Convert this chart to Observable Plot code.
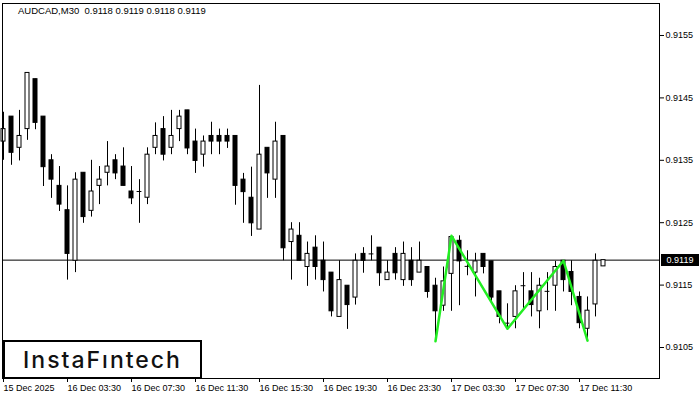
<!DOCTYPE html>
<html><head><meta charset="utf-8">
<script src="https://cdn.jsdelivr.net/npm/d3@7"></script>
<script src="https://cdn.jsdelivr.net/npm/@observablehq/plot@0.6"></script>
<style>
body{margin:0;background:#fff;}
#wrap{position:relative;width:700px;height:400px;font-family:"Liberation Sans",Arial,sans-serif;}
#hdr{position:absolute;left:18px;top:5px;font-size:9.5px;white-space:pre;color:#000;}
#logo{position:absolute;left:3px;top:340px;width:195px;height:35px;border:2px solid #000;background:#fff;font-family:Inter,sans-serif;font-size:23px;font-weight:500;letter-spacing:2px;display:flex;align-items:center;justify-content:center;color:#111;}
#price{position:absolute;left:661px;width:38px;height:12px;background:#000;color:#fff;font-size:9px;line-height:12px;text-align:center;}
</style></head>
<body>
<div id="wrap">
<div id="chart"></div>
<div id="hdr"></div>
<div id="logo">InstaFıntech</div>
<div id="price"></div>
</div>
<script>
const symbolTitle = "AUDCAD,M30  0.9118 0.9119 0.9118 0.9119";
const open = [0.91380,0.91420,0.91370,0.91400,0.91480,0.91420,0.91350,0.91309,0.91270,0.91189,
0.91330,0.91269,0.91309,0.91330,0.91350,0.91340,0.91300,0.91300,0.91290,0.91370,
0.91400,0.91370,0.91400,0.91430,0.91380,0.91359,0.91389,0.91389,0.91389,0.91389,
0.91319,0.91290,0.91239,0.91370,0.91319,0.91389,0.91219,0.91229,0.91179,0.91210,
0.91189,0.91170,0.91099,0.91149,0.91130,0.91200,0.91200,0.91210,0.91158,0.91200,
0.91158,0.91189,0.91170,0.91179,0.91149,0.91117,0.91168,0.91221,0.91180,0.91170,
0.91200,0.91188,0.91140,0.91089,0.91099,0.91149,0.91140,0.91108,0.91140,0.91149,
0.91189,0.91171,0.91131,0.91080,0.91119,0.91180];
const high = [0.91427,0.91420,0.91430,0.91490,0.91480,0.91420,0.91359,0.91340,0.91309,0.91330,
0.91330,0.91350,0.91340,0.91380,0.91359,0.91370,0.91340,0.91319,0.91370,0.91410,
0.91420,0.91430,0.91430,0.91430,0.91400,0.91389,0.91411,0.91400,0.91400,0.91389,
0.91329,0.91339,0.91470,0.91370,0.91411,0.91389,0.91250,0.91250,0.91219,0.91229,
0.91219,0.91170,0.91189,0.91149,0.91200,0.91210,0.91229,0.91210,0.91189,0.91210,
0.91219,0.91210,0.91219,0.91179,0.91161,0.91179,0.91228,0.91229,0.91205,0.91201,
0.91200,0.91188,0.91140,0.91120,0.91149,0.91170,0.91170,0.91161,0.91170,0.91188,
0.91189,0.91189,0.91139,0.91131,0.91200,0.91190];
const low = [0.91350,0.91342,0.91349,0.91382,0.91399,0.91308,0.91289,0.91268,0.91158,0.91170,
0.91249,0.91259,0.91279,0.91309,0.91319,0.91309,0.91279,0.91249,0.91279,0.91359,
0.91349,0.91359,0.91380,0.91359,0.91329,0.91339,0.91359,0.91359,0.91369,0.91278,
0.91249,0.91228,0.91239,0.91289,0.91289,0.91189,0.91158,0.91189,0.91148,0.91158,
0.91139,0.91099,0.91099,0.91079,0.91118,0.91169,0.91189,0.91148,0.91158,0.91158,
0.91148,0.91148,0.91170,0.91129,0.91060,0.91108,0.91108,0.91117,0.91165,0.91131,
0.91168,0.91120,0.91088,0.91081,0.91080,0.91109,0.91099,0.91080,0.91109,0.91108,
0.91139,0.91117,0.91080,0.91061,0.91099,0.91180];
const close = [0.91400,0.91362,0.91389,0.91490,0.91410,0.91339,0.91319,0.91279,0.91200,0.91319,
0.91259,0.91300,0.91319,0.91340,0.91329,0.91309,0.91289,0.91300,0.91359,0.91389,
0.91359,0.91389,0.91420,0.91369,0.91349,0.91380,0.91380,0.91380,0.91380,0.91309,
0.91299,0.91249,0.91359,0.91329,0.91380,0.91209,0.91239,0.91189,0.91200,0.91179,
0.91158,0.91108,0.91158,0.91118,0.91189,0.91189,0.91200,0.91169,0.91170,0.91169,
0.91200,0.91158,0.91189,0.91139,0.91108,0.91156,0.91227,0.91188,0.91181,0.91188,
0.91179,0.91130,0.91099,0.91089,0.91140,0.91149,0.91118,0.91149,0.91140,0.91179,
0.91158,0.91139,0.91089,0.91109,0.91189,0.91190];
const timeTickIdx = [0,8,16,24,32,40,48,56,64,72];
const timeLabels = ["15 Dec 2025","16 Dec 03:30","16 Dec 07:30","16 Dec 11:30","16 Dec 15:30","16 Dec 19:30","16 Dec 23:30","17 Dec 03:30","17 Dec 07:30","17 Dec 11:30"];
const priceTicks = [0.9105,0.9115,0.9125,0.9135,0.9145,0.9155];
const lastPrice = 0.9119;
const patternIdx = [54,56,63,70,73];
const patternPrice = [0.91060,0.91229,0.91080,0.91189,0.91061];

const bars = open.map((o,i)=>({i, open:o, high:high[i], low:low[i], close:close[i]}));
const bodies = bars.filter(d=>Math.abs(d.close-d.open)>=0.000015);
const dojis = bars.filter(d=>Math.abs(d.close-d.open)<0.000015);
const pattern = patternIdx.map((i,k)=>({i, p:patternPrice[k]}));

const chart = Plot.plot({
  width:700, height:400,
  marginTop:3, marginRight:41, marginBottom:22, marginLeft:2,
  x:{domain:[-0.125,82]},
  y:{domain:[0.91000321,0.91601282]},
  style:{fontFamily:"'Liberation Sans', Arial, sans-serif", fontSize:"9px", background:"white", color:"black"},
  marks:[
    Plot.ruleY([lastPrice],{stroke:"black"}),
    Plot.ruleX(bars,{x:"i", y1:"low", y2:"high", stroke:"black"}),
    Plot.rect(bodies,{x1:d=>d.i-0.25, x2:d=>d.i+0.25, y1:"open", y2:"close", fill:d=>d.close>=d.open?"white":"black", stroke:"black"}),
    Plot.ruleY(dojis,{y:"open", x1:d=>d.i-0.3, x2:d=>d.i+0.3, stroke:"black"}),
    Plot.line(pattern,{x:"i", y:"p", stroke:"#22ee22", strokeWidth:2.5}),
    Plot.frame({stroke:"black"}),
    Plot.axisY(priceTicks,{anchor:"right", tickSize:4, tickPadding:2, tickFormat:d=>d.toFixed(4), label:null}),
    Plot.axisX(timeTickIdx,{anchor:"bottom", tickSize:4, tickPadding:2, tickFormat:d=>timeLabels[d/8], textAnchor:"start", label:null})
  ]
});
document.getElementById("chart").appendChild(chart);
document.getElementById("hdr").textContent = symbolTitle;
const pr = document.getElementById("price");
pr.textContent = lastPrice.toFixed(4);
pr.style.top = (chart.scale("y").apply(lastPrice) - 5.5) + "px";
</script>
</body></html>
